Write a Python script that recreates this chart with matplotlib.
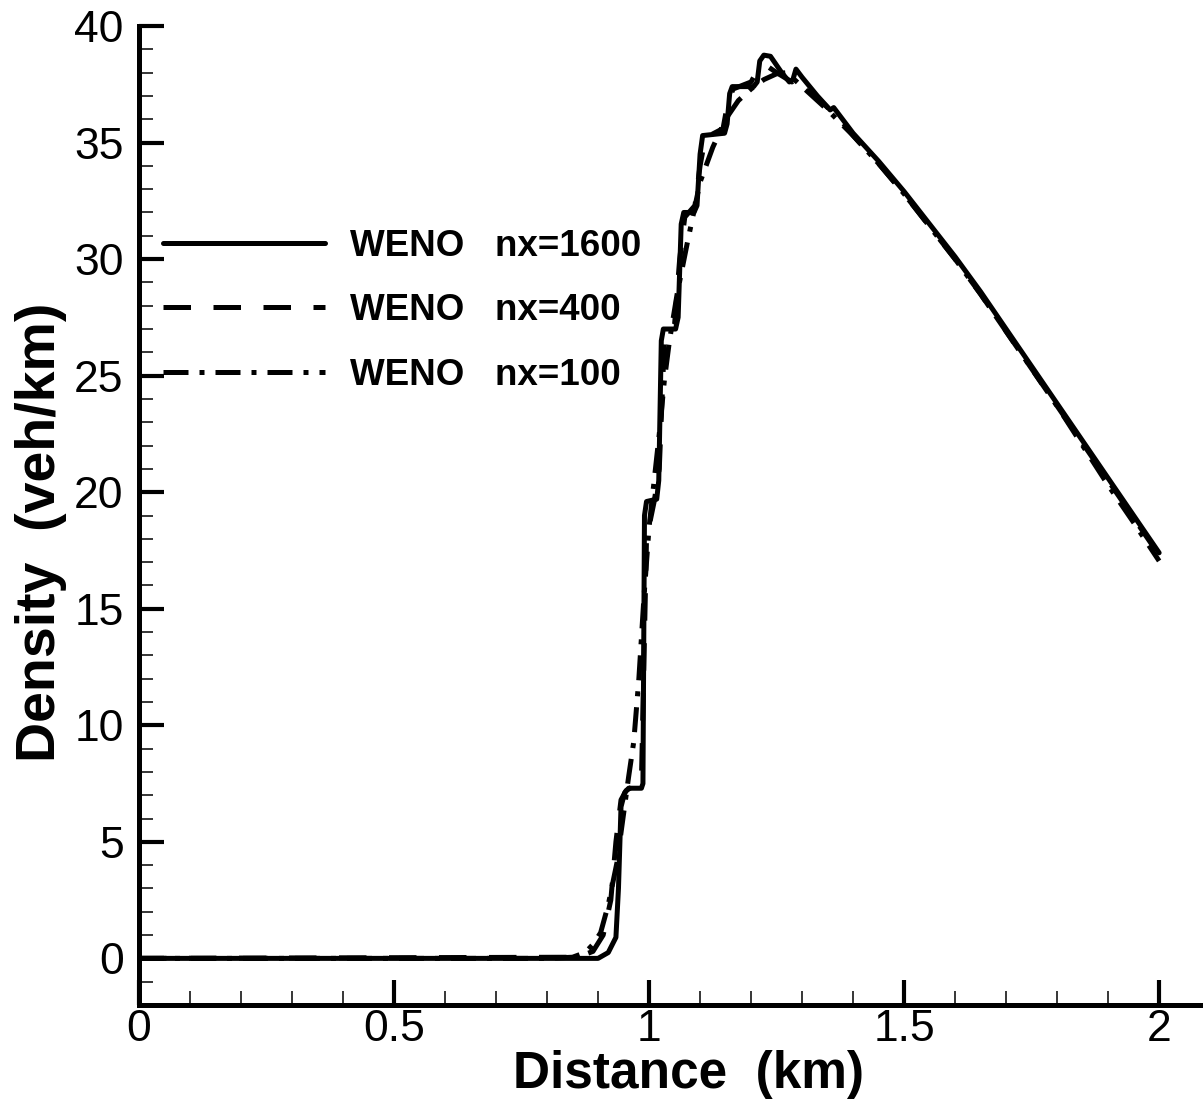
import numpy as np
import matplotlib
matplotlib.use("Agg")
import matplotlib.pyplot as plt
from matplotlib.ticker import MultipleLocator

plt.rcParams['font.family'] = ['Liberation Sans', 'DejaVu Sans']

# WENO nx=1600 (solid)
x_1600 = [0, 0.90, 0.92, 0.935, 0.94, 0.945, 0.952, 0.96, 0.985, 0.988, 0.991, 0.995,
          1.015, 1.019, 1.024, 1.028, 1.052, 1.057, 1.063, 1.068, 1.088, 1.094, 1.100,
          1.105, 1.148, 1.153, 1.158, 1.163, 1.205, 1.212, 1.217, 1.225, 1.238, 1.26,
          1.275, 1.282, 1.288, 1.30, 1.33, 1.355, 1.362, 1.40, 1.45, 1.50, 1.55, 1.60,
          1.65, 1.70, 1.75, 1.80, 1.85, 1.90, 1.95, 2.0]
y_1600 = [0, 0, 0.25, 0.9, 3.0, 6.5, 7.1, 7.3, 7.3, 7.5, 19.0, 19.6,
          19.7, 20.5, 26.5, 27.0, 27.0, 27.5, 31.5, 32.0, 32.0, 32.3, 34.5,
          35.3, 35.4, 35.8, 37.1, 37.4, 37.4, 37.6, 38.5, 38.75, 38.7, 38.0,
          37.6, 37.7, 38.15, 37.8, 37.0, 36.4, 36.5, 35.4, 34.2, 32.9, 31.5, 30.1,
          28.6, 27.0, 25.4, 23.8, 22.2, 20.6, 19.0, 17.4]

# WENO nx=400 (dashed)
x_400 = [0, 0.86, 0.89, 0.91, 0.925, 0.935, 0.945, 0.955, 0.985, 0.995, 1.01, 1.02,
         1.03, 1.05, 1.06, 1.07, 1.09, 1.10, 1.11, 1.145, 1.155, 1.165, 1.20, 1.215,
         1.23, 1.25, 1.28, 1.29, 1.35, 1.36, 1.40, 1.45, 1.50, 1.55, 1.60, 1.65, 1.70,
         1.75, 1.80, 1.85, 1.90, 1.95, 2.0]
y_400 = [0, 0.05, 0.3, 1.0, 2.5, 5.0, 6.8, 7.2, 7.6, 18.0, 19.6, 21.0,
         26.5, 27.2, 30.0, 31.8, 32.3, 34.0, 35.2, 35.6, 36.8, 37.3, 37.6, 38.2,
         38.3, 38.0, 37.6, 37.8, 36.5, 36.4, 35.3, 34.1, 32.8, 31.4, 30.0, 28.5, 26.9,
         25.3, 23.7, 22.1, 20.5, 18.9, 17.3]

# WENO nx=100 (dash-dot)
x_100 = [0, 0.80, 0.85, 0.875, 0.89, 0.905, 0.92, 0.937, 0.95, 0.96, 0.97, 0.98, 0.99,
         1.0, 1.01, 1.02, 1.03, 1.04, 1.055, 1.075, 1.10, 1.125, 1.15, 1.175, 1.20,
         1.225, 1.25, 1.27, 1.30, 1.35, 1.40, 1.45, 1.50, 1.55, 1.60, 1.65, 1.70,
         1.75, 1.80, 1.85, 1.90, 1.95, 2.0]
y_100 = [0, 0, 0.05, 0.25, 0.6, 1.1, 2.3, 4.1, 6.2, 7.8, 9.3, 12.0, 15.5,
         18.5, 20.5, 22.5, 24.8, 26.5, 28.5, 30.7, 33.3, 34.8, 36.0, 36.8, 37.3,
         37.7, 37.95, 38.0, 37.4, 36.4, 35.3, 34.1, 32.8, 31.4, 30.0, 28.5, 26.9,
         25.3, 23.7, 22.0, 20.3, 18.7, 17.05]

labels = ['WENO   nx=1600', 'WENO   nx=400', 'WENO   nx=100']

fig = plt.figure(figsize=(12.03, 11.03), dpi=100)
ax = fig.add_axes([139 / 1203, 1 - 1005 / 1103, 1 - 139 / 1203, (1005 - 26) / 1103])

lw = 3.6
ax.plot(x_1600, y_1600, color='black', lw=lw, ls='-', solid_joinstyle='round',
        solid_capstyle='round', label=labels[0], zorder=3)
ax.plot(x_400, y_400, color='black', lw=lw, dashes=(5.5, 4.5), label=labels[1], zorder=2)
ax.plot(x_100, y_100, color='black', lw=lw, dashes=(5, 2.2, 1, 2.2), label=labels[2], zorder=2)

ax.set_xlim(0, 2.086)
ax.set_ylim(-2, 40)

for s in ['top', 'right']:
    ax.spines[s].set_visible(False)
for s in ['left', 'bottom']:
    ax.spines[s].set_linewidth(3.6)

ax.xaxis.set_major_locator(MultipleLocator(0.5))
ax.xaxis.set_minor_locator(MultipleLocator(0.1))
ax.yaxis.set_major_locator(MultipleLocator(5))
ax.yaxis.set_minor_locator(MultipleLocator(1))
ax.set_xticks([0, 0.5, 1, 1.5, 2])
ax.set_xticklabels(['0', '0.5', '1', '1.5', '2'])

ax.tick_params(which='major', direction='in', length=18, width=3, labelsize=32)
ax.tick_params(which='minor', direction='in', length=10, width=1.1)
ax.tick_params(axis='x', which='major', pad=3)
ax.tick_params(axis='y', which='major', pad=11)

ax.set_xlabel('Distance  (km)', fontsize=37, fontweight='bold')
ax.set_ylabel('Density  (veh/km)', fontsize=40, fontweight='bold')
ax.xaxis.set_label_coords(0.516, -0.046)
ax.yaxis.set_label_coords(-0.068, 0.483)

leg = ax.legend(loc='upper left', bbox_to_anchor=(0.0226, 0.793), frameon=False,
                borderpad=0, borderaxespad=0, handlelength=4.4, handletextpad=0.68,
                labelspacing=0.8, prop={'weight': 'bold', 'size': 26.5})

plt.savefig('out.png', dpi=100)
plt.close()
